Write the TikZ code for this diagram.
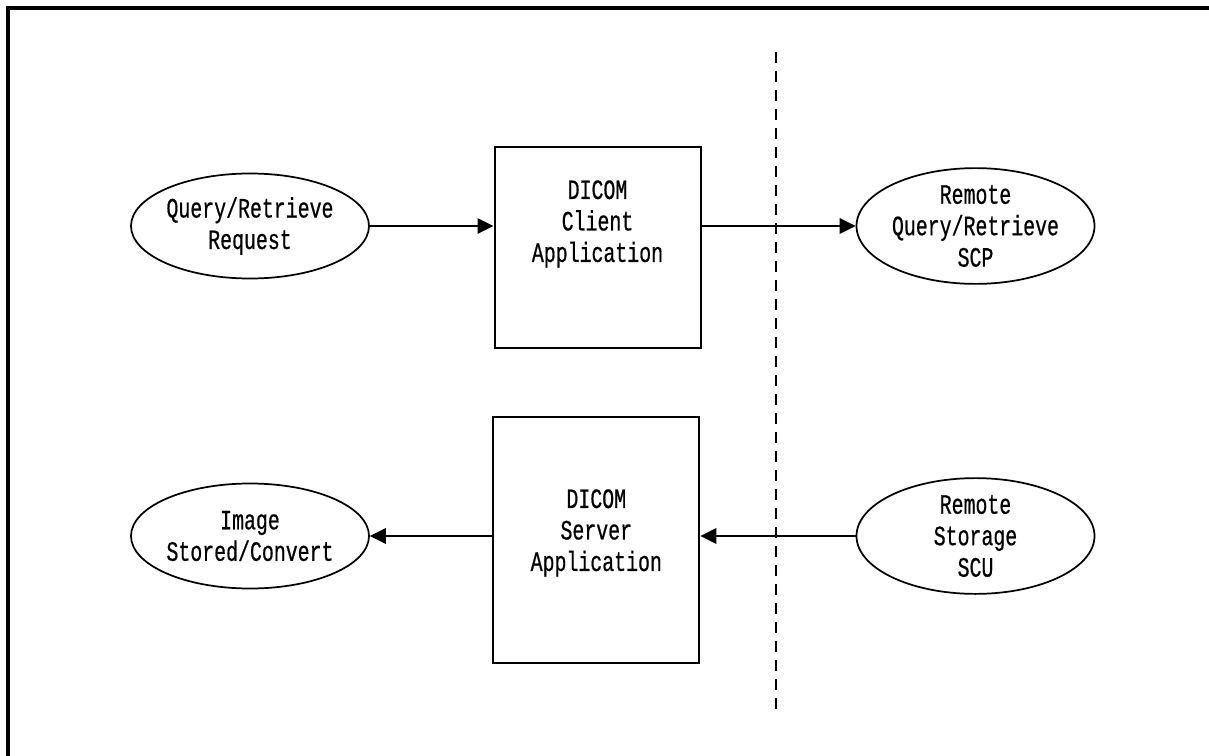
\documentclass[tikz,border=0pt]{standalone}
\usepackage{fontspec}
\usetikzlibrary{arrows.meta,positioning,shapes.geometric}
\newfontfamily\gothic[FakeStretch=0.71,FakeBold=0.6]{Liberation Mono}

\begin{document}
\begin{tikzpicture}[x=0.75pt,y=-0.75pt,
    every node/.style={font=\gothic\fontsize{21pt}{23.6pt}\selectfont,align=center},
    oval/.style={draw,ellipse,line width=1.3pt,inner sep=0pt,minimum width=178.5pt,minimum height=78.75pt},
    appbox/.style={draw,rectangle,line width=1.5pt,inner sep=0pt,minimum width=154.5pt},
    flow/.style={line width=1.6pt,-{Triangle[length=12pt,width=11.5pt]}}]
  \useasboundingbox (0,0) rectangle (1209,756);
  \clip (0,0) rectangle (1209,756);
  \draw[line width=2.3pt] (8,8) rectangle (1240,790);

  % applications
  \node[appbox,minimum height=150.75pt] (client) at (597.5,247.5) {};
  \node (clienttxt) at (597.5,224) {DICOM\\Client\\Application};
  \node[appbox,minimum height=184.5pt] (server) at (596.3,540) {};
  \node (servertxt) at (596.3,533) {DICOM\\Server\\Application};

  % local and remote actors
  \node[oval] (qrreq) at (250,226) {Query/Retrieve\\Request};
  \node[oval] (qrscp) at (975.5,226) {Remote\\Query/Retrieve\\SCP};
  \node[oval] (imgstore) at (250,536) {Image\\Stored/Convert};
  \node[oval] (storescu) at (975.5,536) {Remote\\Storage\\SCU};

  % network boundary
  \coordinate (bndtop) at (776,52);
  \coordinate (bndbot) at (776,716);
  \draw[line width=2pt,dash pattern=on 8.25pt off 6pt] (bndtop) -- (bndbot);

  \draw[flow] (qrreq) -- (qrreq -| client.west);
  \draw[flow] (qrreq -| client.east) -- (qrscp);
  \draw[flow] (storescu) -- (storescu -| server.east);
  \draw[flow] (storescu -| server.west) -- (imgstore);
\end{tikzpicture}
\end{document}
